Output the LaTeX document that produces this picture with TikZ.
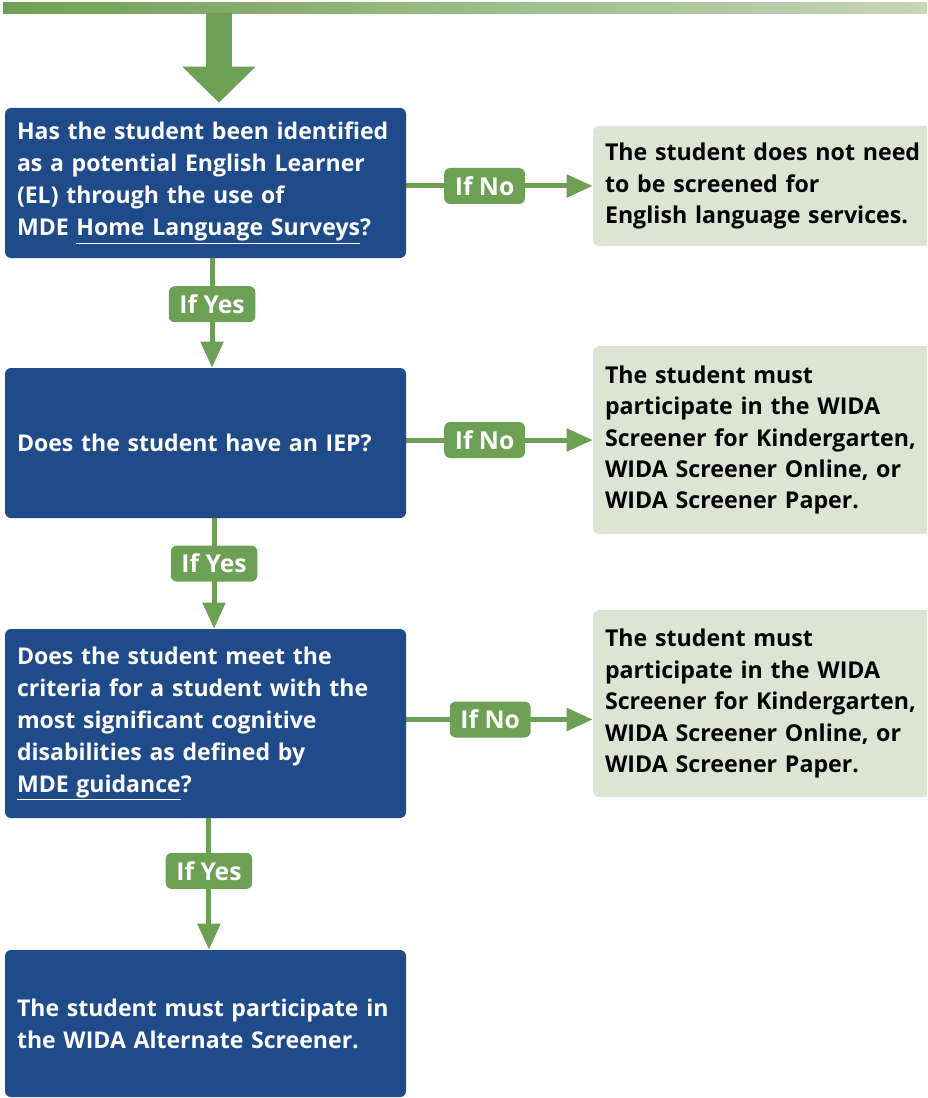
\documentclass[tikz,border=0pt]{standalone}
\usepackage{fontspec}
\setmainfont{Open Sans}
\usetikzlibrary{arrows.meta}
\definecolor{mdeblue}{RGB}{31,75,138}
\definecolor{mdegreen}{RGB}{109,160,85}
\definecolor{mdepale}{RGB}{222,228,212}
\definecolor{mdefade}{RGB}{200,213,184}

\begin{document}
\begin{tikzpicture}[x=0.75pt,y=-0.75pt,
    question/.style={rectangle,rounded corners=4.5pt,fill=mdeblue,text=white,align=left,text width=282.75pt,inner xsep=9pt,minimum width=300.75pt,font=\bfseries\fontsize{17.3}{24}\selectfont},
    answer/.style={rectangle,rounded corners=4.5pt,fill=mdepale,text=black,align=left,text width=246pt,inner xsep=9pt,minimum width=264pt,font=\bfseries\fontsize{17.4}{23.6}\selectfont},
    tag/.style={rectangle,rounded corners=4.5pt,fill=mdegreen,text=white,inner xsep=8pt,minimum height=27pt,font=\bfseries\fontsize{18.5}{20}\selectfont},
    flow/.style={draw=mdegreen,line width=3.75pt,-{Triangle[length=19.5pt,width=16.5pt]}}]
            \useasboundingbox (0,0) rectangle (927,1098);
            \clip (0,0) rectangle (927,1098);

            \node (bar) at (465,8.5) [rectangle,inner sep=0pt,minimum width=693pt,minimum height=8.25pt,left color=mdegreen,right color=mdefade] {};
            \coordinate (top) at (219,13);

            \node (q1) at (205.5,183) [question,minimum height=112.5pt] {Has the student been identified\\ as a potential English Learner\\ (EL) through the use of\\ MDE \underline{Home Language Surveys}?};
            \node (q2) at (205.5,443) [question,minimum height=112.5pt] {Does the student have an IEP?};
            \node (q3) at (205.5,723.5) [question,minimum height=141.75pt] {Does the student meet the\\ criteria for a student with the\\ most significant cognitive\\ disabilities as defined by\\ \underline{MDE guidance}?};
            \node (q4) at (205.5,1023.5) [question,minimum height=110.25pt] {The student must participate in\\ the WIDA Alternate Screener.};

            \node (a1) at (769,186) [answer,minimum height=90pt] {The student does not need\\ to be screened for\\ English language services.};
            \node (a2) at (769,440) [answer,minimum height=141pt] {The student must\\ participate in the WIDA\\ Screener for Kindergarten,\\ WIDA Screener Online, or\\ WIDA Screener Paper.};
            \node (a3) at (769,703.5) [answer,minimum height=140.25pt] {The student must\\ participate in the WIDA\\ Screener for Kindergarten,\\ WIDA Screener Online, or\\ WIDA Screener Paper.};

            \draw[draw=mdegreen,line width=19.5pt,shorten >=3.75pt,-{Triangle[length=27pt,width=53.25pt]}] (top) -- (top |- q1.north);

            \draw[flow] (q1.east |- a1.west) -- node[tag,pos=0.42] (n1) {If No} (a1.west);
            \draw[flow] (q2.east |- a2.west) -- node[tag,pos=0.42] (n2) {If No} (a2.west);
            \draw[flow] ([yshift=3pt]q3.east) -- node[tag,pos=0.45] (n3) {If No} ([yshift=3pt]q3.east -| a3.west);

            \draw[flow] ([xshift=4.9pt]q1.south) -- node[tag,pos=0.42] (y1) {If Yes} ([xshift=4.9pt]q2.north);
            \draw[flow] ([xshift=6.4pt]q2.south) -- node[tag,pos=0.41] (y2) {If Yes} ([xshift=6.4pt]q3.north);
            \draw[flow] ([xshift=2.6pt]q3.south) -- node[tag,pos=0.40] (y3) {If Yes} ([xshift=2.6pt]q4.north);
        \end{tikzpicture}
\end{document}
